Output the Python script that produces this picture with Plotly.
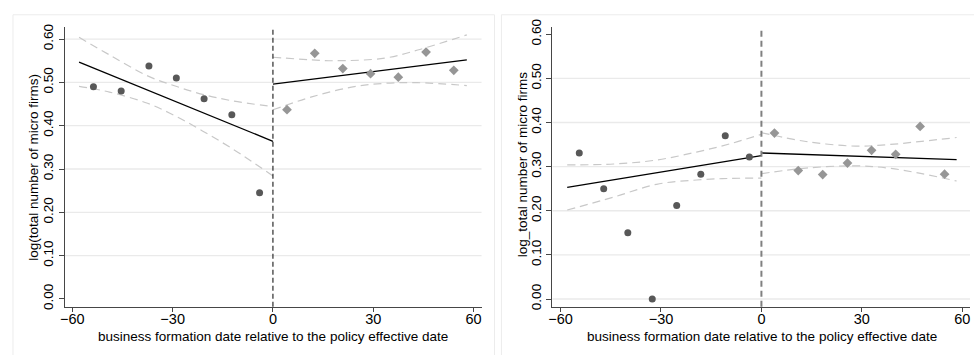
import plotly.graph_objects as go

# ---------------- data ----------------
# Left panel: log(total number of micro firms)
L_pre_x = [-53.7, -45.4, -37.1, -28.9, -20.6, -12.3, -4.0]
L_pre_y = [0.490, 0.480, 0.538, 0.510, 0.462, 0.425, 0.245]
L_post_x = [4.2, 12.5, 20.9, 29.2, 37.5, 45.8, 54.1]
L_post_y = [0.437, 0.567, 0.532, 0.520, 0.512, 0.570, 0.528]
L_fit_pre_x = [-58.0, 0.0]
L_fit_pre_y = [0.547, 0.364]
L_fit_post_x = [0.0, 58.0]
L_fit_post_y = [0.496, 0.552]
L_ci_pre_x = [-58.0, -48.9, -37.5, -29.0, -21.1, -12.2, 0.0]
L_ci_pre_hi = [0.604, 0.5635, 0.515, 0.491, 0.4725, 0.4575, 0.444]
L_ci_pre_lo = [0.491, 0.4777, 0.4517, 0.4217, 0.388, 0.347, 0.284]
L_ci_post_hi_x = [0.0, 11.6, 18.6, 33.4, 43.3, 58.0]
L_ci_post_hi = [0.558, 0.552, 0.550, 0.556, 0.5747, 0.6096]
L_ci_post_lo_x = [0.0, 11.6, 23.5, 33.4, 43.3, 58.0]
L_ci_post_lo = [0.4367, 0.4665, 0.489, 0.4978, 0.4993, 0.4926]

# Right panel: log_total number of micro firms
R_pre_x = [-54.4, -47.1, -39.9, -32.6, -25.3, -18.1, -10.8, -3.6]
R_pre_y = [0.331, 0.250, 0.150, 0.000, 0.212, 0.283, 0.370, 0.322]
R_post_x = [3.9, 11.0, 18.3, 25.7, 32.9, 40.1, 47.4, 54.7]
R_post_y = [0.376, 0.291, 0.282, 0.308, 0.337, 0.328, 0.391, 0.283]
R_fit_pre_x = [-58.0, 0.0]
R_fit_pre_y = [0.253, 0.325]
R_fit_post_x = [0.0, 58.3]
R_fit_post_y = [0.331, 0.316]
R_ci_pre_x = [-58.0, -44.1, -31.3, -19.4, -9.5, 0.0]
R_ci_pre_hi = [0.304, 0.306, 0.315, 0.333, 0.3515, 0.3735]
R_ci_pre_lo = [0.2017, 0.231, 0.260, 0.2697, 0.2733, 0.274]
R_ci_post_x = [0.0, 13.3, 28.1, 38.0, 47.9, 58.3]
R_ci_post_hi = [0.377, 0.357, 0.3465, 0.350, 0.3574, 0.366]
R_ci_post_lo = [0.284, 0.2967, 0.3018, 0.2967, 0.284, 0.2675]

x_ticks = [-60, -30, 0, 30, 60]
y_ticks = [0.0, 0.1, 0.2, 0.3, 0.4, 0.5, 0.6]
y_ticklabels = ["0.00", "0.10", "0.20", "0.30", "0.40", "0.50", "0.60"]
L_grid = [0.1, 0.2, 0.3, 0.4, 0.5, 0.6]
R_grid = [0.0, 0.1, 0.2, 0.3, 0.4, 0.5]
cutoff = 0

x_title = "business formation date relative to the policy effective date"
L_ytitle = "log(total number of micro firms)"
R_ytitle = "log_total number of micro firms"

# ---------------- styling ----------------
FONT = "Liberation Sans, Arial, Helvetica, sans-serif"
C_DOT = "rgb(88,88,88)"
C_DIA = "rgb(150,150,150)"
C_CI = "rgb(200,200,200)"
C_AX = "rgb(70,70,70)"
C_GRID = "rgb(234,234,234)"
W, H = 974, 355

fig = go.Figure()


def add_panel(xa, ya, pre_x, pre_y, post_x, post_y, fpx, fpy, fqx, fqy,
              cpx_hi, cp_hi, cpx_lo, cp_lo, cqx_hi, cq_hi, cqx_lo, cq_lo):
    ci = dict(color=C_CI, width=1.2, dash="8px,5px", shape="spline")
    for xx, yy in [(cpx_hi, cp_hi), (cpx_lo, cp_lo), (cqx_hi, cq_hi), (cqx_lo, cq_lo)]:
        fig.add_trace(go.Scatter(x=xx, y=yy, mode="lines", line=ci,
                                 xaxis=xa, yaxis=ya, showlegend=False, hoverinfo="skip"))
    for xx, yy in [(fpx, fpy), (fqx, fqy)]:
        fig.add_trace(go.Scatter(x=xx, y=yy, mode="lines", line=dict(color="black", width=1.3),
                                 xaxis=xa, yaxis=ya, showlegend=False))
    fig.add_trace(go.Scatter(x=pre_x, y=pre_y, mode="markers",
                             marker=dict(symbol="circle", size=7, color=C_DOT),
                             xaxis=xa, yaxis=ya, showlegend=False))
    fig.add_trace(go.Scatter(x=post_x, y=post_y, mode="markers",
                             marker=dict(symbol="diamond", size=7.5, color=C_DIA),
                             xaxis=xa, yaxis=ya, showlegend=False))


add_panel("x", "y", L_pre_x, L_pre_y, L_post_x, L_post_y,
          L_fit_pre_x, L_fit_pre_y, L_fit_post_x, L_fit_post_y,
          L_ci_pre_x, L_ci_pre_hi, L_ci_pre_x, L_ci_pre_lo,
          L_ci_post_hi_x, L_ci_post_hi, L_ci_post_lo_x, L_ci_post_lo)
add_panel("x2", "y2", R_pre_x, R_pre_y, R_post_x, R_post_y,
          R_fit_pre_x, R_fit_pre_y, R_fit_post_x, R_fit_post_y,
          R_ci_pre_x, R_ci_pre_hi, R_ci_pre_x, R_ci_pre_lo,
          R_ci_post_x, R_ci_post_hi, R_ci_post_x, R_ci_post_lo)

shapes = []
# panel frames
for x0, x1 in [(8, 492), (499, 990)]:
    shapes.append(dict(type="rect", xref="paper", yref="paper",
                       x0=x0 / W, x1=x1 / W, y0=-0.05, y1=(H - 7) / H,
                       line=dict(color="rgb(236,236,236)", width=1), layer="below"))
# gridlines
for g in L_grid:
    shapes.append(dict(type="line", xref="x domain", yref="y", x0=0, x1=1, y0=g, y1=g,
                       line=dict(color=C_GRID, width=1.3), layer="below"))
for g in R_grid:
    shapes.append(dict(type="line", xref="x2 domain", yref="y2", x0=0, x1=1, y0=g, y1=g,
                       line=dict(color=C_GRID, width=1.3), layer="below"))
# cutoff lines
shapes.append(dict(type="line", xref="x", yref="y domain", x0=cutoff, x1=cutoff, y0=0, y1=1,
                   line=dict(color="black", width=1, dash="5px,3px")))
shapes.append(dict(type="line", xref="x2", yref="y2 domain", x0=cutoff, x1=cutoff, y0=0, y1=1,
                   line=dict(color="rgb(128,128,128)", width=2, dash="6px,4px")))

xax = dict(range=[-62.3, 62.4], tickvals=x_ticks, ticks="outside", ticklen=4, tickwidth=1,
           tickcolor=C_AX, showline=True, linecolor=C_AX, linewidth=1.3, showgrid=False,
           zeroline=False, ticklabelstandoff=-5,
           tickfont=dict(family=FONT, size=14.5, color="black"))
yax = dict(tickvals=y_ticks, ticktext=y_ticklabels, ticks="outside", ticklen=5, tickwidth=1,
           tickcolor=C_AX, showline=True, linecolor=C_AX, linewidth=1.3, showgrid=False,
           zeroline=False, tickangle=-90, tickfont=dict(family=FONT, size=13.5, color="black"))

yd = [(H - 308.3) / H, (H - 20) / H]
fig.update_layout(
    width=W, height=H, margin=dict(l=0, r=0, t=0, b=0),
    paper_bgcolor="white", plot_bgcolor="white",
    xaxis=dict(xax, domain=[60 / W, 479 / W], anchor="y"),
    yaxis=dict(yax, domain=yd, range=[-0.018, 0.627], anchor="x"),
    xaxis2=dict(xax, domain=[550.3 / W, 970 / W], anchor="y2", range=[-62.4, 62.3]),
    yaxis2=dict(yax, domain=yd, range=[-0.0175, 0.6156], anchor="x2"),
    shapes=shapes,
    annotations=[
        dict(text=x_title, xref="paper", yref="paper", x=269.5 / W, y=(H - 338.5) / H,
             showarrow=False, font=dict(family=FONT, size=13.5, color="black"),
             xanchor="center", yanchor="middle"),
        dict(text=x_title, xref="paper", yref="paper", x=760.8 / W, y=(H - 338.5) / H,
             showarrow=False, font=dict(family=FONT, size=13.5, color="black"),
             xanchor="center", yanchor="middle"),
        dict(text=L_ytitle, xref="paper", yref="paper", x=29 / W, y=(H - 164) / H,
             showarrow=False, textangle=-90, font=dict(family=FONT, size=13.5, color="black"),
             xanchor="center", yanchor="middle"),
        dict(text=R_ytitle, xref="paper", yref="paper", x=520 / W, y=(H - 161) / H,
             showarrow=False, textangle=-90, font=dict(family=FONT, size=13.5, color="black"),
             xanchor="center", yanchor="middle"),
    ],
)

fig.write_html("out.html")
